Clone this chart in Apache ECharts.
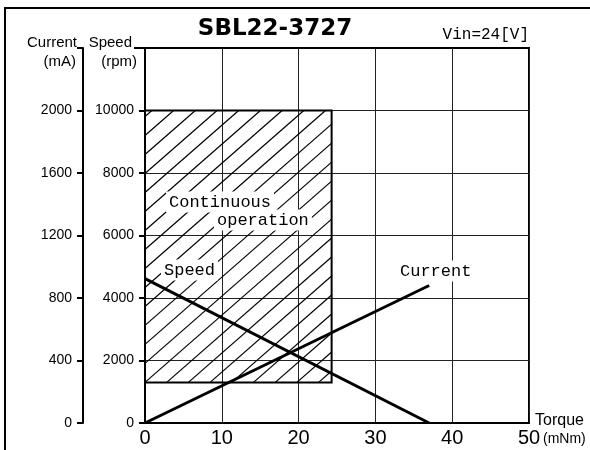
<!DOCTYPE html>
<html><head><meta charset="utf-8">
<script src="https://cdn.jsdelivr.net/npm/echarts@6/dist/echarts.min.js"></script>
<style>html,body{margin:0;padding:0;background:#fff}#c{width:590px;height:450px}</style>
</head><body><div id="c"></div>
<script>
// ---- data ----
const torque = [0, 37.0];            // mNm
const speedRpm = [4620, 0];          // rpm
const currentMa = [0, 880];          // mA
const contTorque = [0, 24.3];        // continuous operation region torque range
const contSpeed = [1300, 10000];     // continuous operation region speed range
const torqueTicks = [0, 10, 20, 30, 40, 50];
const speedTicks = [0, 2000, 4000, 6000, 8000, 10000];
const currentTicks = [0, 400, 800, 1200, 1600, 2000];

const SANS = "'Liberation Sans',Arial,sans-serif";
const MONO = "'Liberation Mono','DejaVu Sans Mono',monospace";

const chart = echarts.init(document.getElementById('c'), null, {renderer: 'canvas'});

function renderHatch(params, api) {
  const p1 = api.coord([api.value(0), api.value(3)]);
  const p2 = api.coord([api.value(1), api.value(2)]);
  const x1 = p1[0], yT = p1[1], x2 = p2[0], yB = p2[1];
  const s = 0.875, step = 21.7;
  const span = (yB - yT) / s;
  const children = [];
  for (let c = x1 - Math.ceil(span / step) * step; c < x2; c += step) {
    const xa = Math.max(x1, c), xb = Math.min(x2, c + span);
    if (xb - xa < 0.5) continue;
    children.push({type: 'line', shape: {x1: xa, y1: yB - s * (xa - c), x2: xb, y2: yB - s * (xb - c)},
      style: {stroke: '#000', lineWidth: 1.2}});
  }
  children.push({type: 'rect', shape: {x: x1, y: yT, width: x2 - x1, height: yB - yT},
    style: {fill: 'none', stroke: '#000', lineWidth: 2}});
  return {type: 'group', children: children};
}

function txt(text, x, y, font, align, bg) {
  const st = {text: text, x: x, y: y, font: font, fill: '#000',
    align: align, textAlign: align, verticalAlign: 'middle', textVerticalAlign: 'middle'};
  if (bg) { st.backgroundColor = '#fff'; st.padding = [2, 3]; }
  return {type: 'text', z: 100, style: st};
}

const plain = v => String(v);

const option = {
  backgroundColor: '#fff',
  animation: false,
  grid: {left: 145, right: 61, top: 48, bottom: 27, show: true, borderColor: '#000', borderWidth: 2},
  xAxis: {
    type: 'value', min: 0, max: 50, interval: 10,
    axisLine: {show: true, onZero: false, lineStyle: {color: '#000', width: 2}},
    axisTick: {show: false},
    axisLabel: {fontFamily: SANS, fontSize: 20, color: '#000', margin: 5, customValues: torqueTicks, formatter: plain},
    splitLine: {show: true, lineStyle: {color: '#222', width: 1}}
  },
  yAxis: [
    {
      type: 'value', min: 0, max: 12000, interval: 2000, position: 'left',
      axisLine: {show: true, onZero: false, lineStyle: {color: '#000', width: 2}},
      axisTick: {show: true, length: 6, lineStyle: {color: '#000', width: 2}, customValues: speedTicks},
      axisLabel: {fontFamily: SANS, fontSize: 14, color: '#000', margin: 11, customValues: speedTicks, formatter: plain},
      splitLine: {show: true, lineStyle: {color: '#222', width: 1}}
    },
    {
      type: 'value', min: 0, max: 2400, interval: 400, position: 'left', offset: 62,
      axisLine: {show: true, onZero: false, lineStyle: {color: '#000', width: 2}},
      axisTick: {show: true, length: 6, lineStyle: {color: '#000', width: 2}, customValues: currentTicks.concat([2400])},
      axisLabel: {fontFamily: SANS, fontSize: 14, color: '#000', margin: 11, customValues: currentTicks, formatter: plain},
      splitLine: {show: false}
    }
  ],
  series: [
    {
      type: 'custom', renderItem: renderHatch, silent: true, clip: false, z: 2,
      encode: {x: [0, 1], y: [2, 3]},
      data: [[contTorque[0], contTorque[1], contSpeed[0], contSpeed[1]]]
    },
    {
      type: 'line', yAxisIndex: 0, showSymbol: false, symbol: 'none', silent: true, z: 5,
      lineStyle: {color: '#000', width: 3},
      data: torque.map((t, i) => [t, speedRpm[i]])
    },
    {
      type: 'line', yAxisIndex: 1, showSymbol: false, symbol: 'none', silent: true, z: 5,
      lineStyle: {color: '#000', width: 3},
      data: torque.map((t, i) => [t, currentMa[i]])
    }
  ],
  graphic: [
    {type: 'rect', shape: {x: 5, y: 8, width: 700, height: 600}, style: {fill: 'none', stroke: '#000', lineWidth: 2}, z: 100},
    txt('SBL22-3727', 275, 29, "bold 23px 'DejaVu Sans',sans-serif", 'center'),
    txt('Vin=24[V]', 529, 35, '16px ' + MONO, 'right'),
    txt('Current', 77, 43, '15px ' + SANS, 'right'),
    txt('(mA)', 76, 62, '15px ' + SANS, 'right'),
    txt('Speed', 132, 43, '15px ' + SANS, 'right'),
    txt('(rpm)', 137, 62, '15px ' + SANS, 'right'),
    {type: 'line', shape: {x1: 134, y1: 48, x2: 145, y2: 48}, style: {stroke: '#000', lineWidth: 2}, z: 100},
    txt('Continuous', 166, 202, '17px ' + MONO, 'left', true),
    txt('operation', 214, 220, '17px ' + MONO, 'left', true),
    txt('Speed', 161, 270, '17px ' + MONO, 'left', true),
    txt('Current', 397, 271, '17px ' + MONO, 'left', true),
    txt('Torque', 535, 421, '16px ' + SANS, 'left'),
    txt('(mNm)', 543, 439, '14px ' + SANS, 'left')
  ]
};
chart.setOption(option);
</script>
</body></html>
